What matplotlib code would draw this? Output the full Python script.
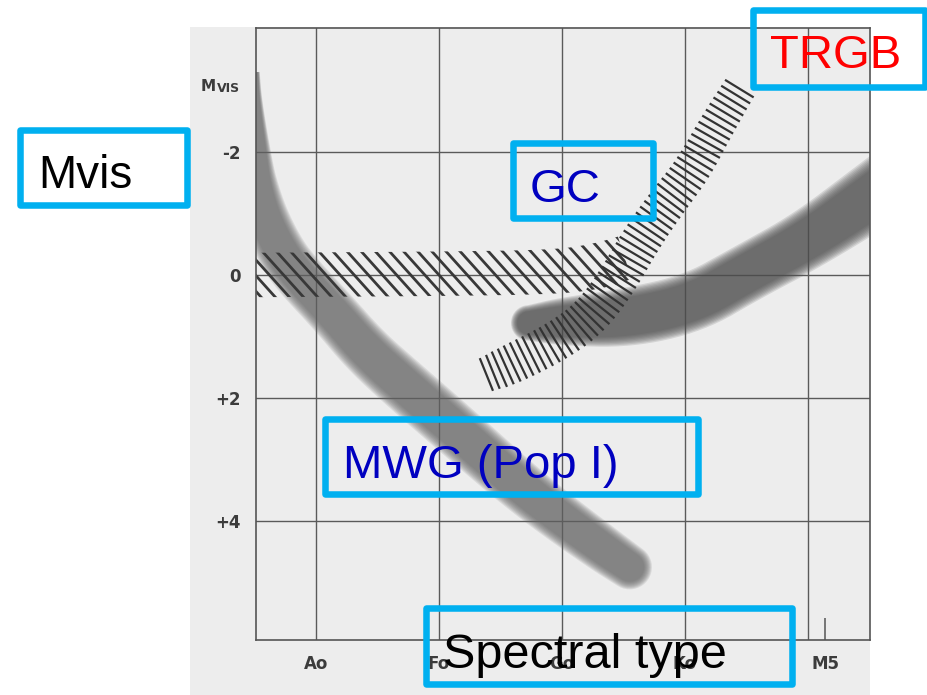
import numpy as np
import matplotlib
matplotlib.use('Agg')
import matplotlib.pyplot as plt
from matplotlib.patches import Polygon, Rectangle
from matplotlib.collections import LineCollection

W, H = 928, 695

# spectral type axis (A0=0, F0=1, G0=2, K0=3, M0=4) and Mvis axis
grid_sp = [0, 1, 2, 3, 4]
sp_labels = ['Ao', 'Fo', 'Go', 'Ko', '']
m5_pos = 4.14
mag_ticks = [-2, 0, 2, 4]
mag_labels = ['-2', '0', '+2', '+4']

# main sequence (Pop I), centre line + band width in points
ms_sp = [-0.50, -0.50, -0.47, -0.47, -0.41, -0.28, -0.15, 0.14, 0.40, 0.67, 1.21, 1.76, 2.31, 2.55]
ms_mv = [-3.30, -2.85, -1.98, -1.43, -0.89, -0.36, 0.00, 0.62, 1.22, 1.71, 2.65, 3.61, 4.42, 4.75]
ms_w = [7, 10, 17, 27, 32, 33, 34, 34, 35, 36, 36, 34, 32, 30]

# giant branch (Pop I)
gb_sp = [1.73, 1.98, 2.53, 3.07, 3.50, 4.00, 4.50, 4.75]
gb_mv = [0.78, 0.76, 0.70, 0.46, -0.03, -0.57, -1.25, -1.61]
gb_w = [24, 32, 40, 40, 39, 40, 45, 46]

# globular cluster red giant branch (hatched)
rgb_sp = [1.37, 1.58, 1.98, 2.25, 2.47, 2.64, 2.85, 3.06, 3.27, 3.46]
rgb_mv = [1.63, 1.46, 1.06, 0.65, 0.03, -0.57, -1.17, -1.71, -2.47, -3.09]
rgb_w = [25, 29, 29, 29, 29, 29, 28, 27, 26, 24]

# globular cluster horizontal branch (hatched)
hb_sp = [-0.488, 1.09, 1.98, 2.31, 2.51]
hb_mv = [0.00, -0.02, -0.05, -0.15, -0.28]
hb_w = [32, 32, 32, 33, 32]


def fx(x, y):
    return (x / W, 1 - y / H)


def chaikin(p, n=3):
    for _ in range(n):
        q = 0.75 * p[:-1] + 0.25 * p[1:]
        r = 0.25 * p[:-1] + 0.75 * p[1:]
        mid = np.empty((2 * len(q), p.shape[1]))
        mid[0::2] = q
        mid[1::2] = r
        p = np.vstack([p[:1], mid, p[-1:]])
    return p


def band_geom(ax, xs, ys, ws):
    pts = ax.transData.transform(np.column_stack([xs, ys]))
    half = np.asarray(ws, float) * fig.dpi / 72 / 2
    sm = chaikin(np.column_stack([pts, half]))
    pts, half = sm[:, :2], sm[:, 2]
    d = np.gradient(pts, axis=0)
    d = d / np.hypot(d[:, 0], d[:, 1])[:, None]
    nrm = np.column_stack([-d[:, 1], d[:, 0]])
    return pts, d, nrm, half


def band_outline(ax, xs, ys, ws, scale=1.0, caps=(False, False)):
    pts, d, nrm, half = band_geom(ax, xs, ys, ws)
    half = half * scale
    left = pts + nrm * half[:, None]
    right = pts - nrm * half[:, None]
    t = np.linspace(0, np.pi, 20)[:, None]
    parts = [left]
    if caps[1]:
        parts.append(pts[-1] + half[-1] * (np.cos(t) * nrm[-1] + np.sin(t) * d[-1]))
    parts.append(right[::-1])
    if caps[0]:
        parts.append(pts[0] + half[0] * (-np.cos(t) * nrm[0] - np.sin(t) * d[0]))
    return ax.transData.inverted().transform(np.vstack(parts))


def grey_band(ax, xs, ys, ws, color, caps, alpha):
    # soft edged band, like the airbrushed original
    for sc in np.linspace(1.07, 0.7, 9):
        poly = band_outline(ax, xs, ys, ws, sc, caps)
        ax.add_patch(Polygon(poly, closed=True, facecolor=color, edgecolor='none',
                             alpha=alpha, zorder=1))


fig = plt.figure(figsize=(W / 100, H / 100), dpi=100)
fig.patch.set_facecolor('white')
fig.add_artist(Rectangle(fx(190, 695), 680 / W, 668 / H, transform=fig.transFigure,
                         facecolor='#ededed', edgecolor='none', zorder=-1))

ax = fig.add_axes([256 / W, 1 - 640 / H, 614 / W, 612 / H])
ax.set_facecolor('#ededed')
ax.set_xlim(-0.488, 4.504)
ax.set_ylim(5.935, -4.016)
ax.set_axisbelow(True)
for s in ax.spines.values():
    s.set_color('#555555')
    s.set_linewidth(1.2)

ax.set_xticks(grid_sp, sp_labels)
ax.set_xticks([m5_pos], ['M5'], minor=True)
ax.set_yticks(mag_ticks, mag_labels)
ax.tick_params(axis='both', which='major', length=0, pad=11, labelsize=12,
               labelcolor='#3c3c3c')
ax.tick_params(axis='x', which='minor', direction='in', length=16, width=1.1,
               color='#555555', pad=11, labelsize=12, labelcolor='#3c3c3c')
for lab in ax.get_xticklabels(minor=True) + ax.get_xticklabels() + ax.get_yticklabels():
    lab.set_fontweight('bold')
ax.grid(True, which='major', color='#5a5a5a', linewidth=1.0)

# grey bands
grey_band(ax, ms_sp, ms_mv, ms_w, '#646464', (False, True), alpha=0.14)
grey_band(ax, gb_sp, gb_mv, gb_w, '#4e4e4e', (True, False), alpha=0.16)

# horizontal branch: slanted hatching clipped to the band
hb_patch = Polygon(band_outline(ax, hb_sp, hb_mv, hb_w), closed=True,
                   facecolor='none', edgecolor='none')
ax.add_patch(hb_patch)
ang = np.deg2rad(48)
u = np.array([np.cos(ang), -np.sin(ang)])
v = np.array([np.sin(ang), np.cos(ang)])
c0 = ax.transData.transform((1.0, 0.0))
segs = []
for c in np.arange(-420, 420, 10.5):
    p = c0 + c * v
    segs.append(ax.transData.inverted().transform(np.array([p - 500 * u, p + 500 * u])))
hb_lines = LineCollection(segs, colors='#383838', linewidths=2.0, zorder=2)
hb_lines.set_clip_path(hb_patch)
ax.add_collection(hb_lines)

# red giant branch: ladder hatching across the band
rp, _, rn, rh = band_geom(ax, rgb_sp, rgb_mv, rgb_w)
arc = np.concatenate([[0], np.cumsum(np.hypot(*np.diff(rp, axis=0).T))])
segs = []
for s in np.arange(2, arc[-1], 7.0):
    i = min(np.searchsorted(arc, s), len(arc) - 1)
    c = rp[i - 1] + (rp[i] - rp[i - 1]) * (s - arc[i - 1]) / (arc[i] - arc[i - 1])
    segs.append(ax.transData.inverted().transform(
        np.array([c + rn[i] * rh[i], c - rn[i] * rh[i]])))
ax.add_collection(LineCollection(segs, colors='#333333', linewidths=1.6, zorder=2))

# Mvis axis label inside the scan
fig.text(*fx(201, 91), 'M', fontsize=11, fontweight='bold', color='#3c3c3c')
fig.text(*fx(217, 92), 'VIS', fontsize=9, fontweight='bold', color='#3c3c3c')

# annotation boxes
boxes = [
    (20, 130, 187, 205),
    (513, 143, 653, 218),
    (753, 10, 925, 87),
    (325, 419, 698, 494),
    (426, 608, 792, 684),
]
for x0, y0, x1, y1 in boxes:
    fig.add_artist(Rectangle(fx(x0, y1), (x1 - x0) / W, (y1 - y0) / H,
                             transform=fig.transFigure, facecolor='none',
                             edgecolor='#00b0f0', linewidth=4.7, joinstyle='round',
                             zorder=5))

font = 'Liberation Sans'
fig.text(*fx(38, 188), 'Mvis', fontsize=33, color='black', family=font, zorder=6)
fig.text(*fx(530, 202), 'GC', fontsize=34, color='#0000c0', family=font, zorder=6)
fig.text(*fx(770, 68), 'TRGB', fontsize=34, color='#ff0000', family=font, zorder=6)
fig.text(*fx(343, 478), 'MWG (Pop I)', fontsize=34, color='#0000c0', family=font, zorder=6)
fig.text(*fx(443, 668), 'Spectral type', fontsize=35, color='black', family=font, zorder=6)

fig.savefig('out.png', dpi=100)
